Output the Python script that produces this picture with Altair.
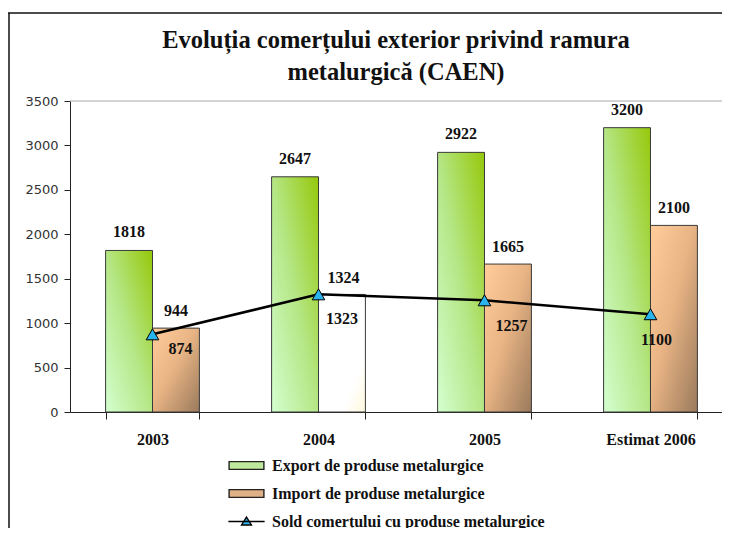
import altair as alt
import pandas as pd

# ---------------- data ----------------
years = ["2003", "2004", "2005", "Estimat 2006"]
export_vals = [1818, 2647, 2922, 3200]
import_vals = [944, 1323, 1665, 2100]
sold_vals = [874, 1324, 1257, 1100]

S_EXP = "Export de produse metalurgice"
S_IMP = "Import de produse metalurgice"
S_SOLD = "Sold comerțului cu produse metalurgice"
series_names = [S_EXP, S_IMP, S_SOLD]

title_lines = ["Evoluția comerțului exterior privind ramura", "metalurgică (CAEN)"]
y_ticks = [0, 500, 1000, 1500, 2000, 2500, 3000, 3500]

bars = pd.DataFrame(
    {"year": years * 2,
     "series": [S_EXP] * 4 + [S_IMP] * 4,
     "value": export_vals + import_vals}
)
sold = pd.DataFrame({"year": years, "series": [S_SOLD] * 4, "value": sold_vals})
legend_df = pd.DataFrame({"series": series_names})
one = pd.DataFrame({"a": [0]})

# ---------------- styling ----------------
SERIF = "Liberation Serif"
green_grad = alt.Gradient(gradient="linear", x1=0, y1=1, x2=1, y2=0,
                          stops=[alt.GradientStop(offset=0, color="#d4ffd0"),
                                 alt.GradientStop(offset=0.5, color="#b5e685"),
                                 alt.GradientStop(offset=1, color="#95c80a")])
tan_grad = alt.Gradient(gradient="linear", x1=0, y1=0, x2=1, y2=1,
                        stops=[alt.GradientStop(offset=0, color="#ffcc9a"),
                               alt.GradientStop(offset=0.45, color="#eab585"),
                               alt.GradientStop(offset=1, color="#9a7a5c")])
white_grad = alt.Gradient(gradient="linear", x1=0, y1=0, x2=1, y2=1,
                          stops=[alt.GradientStop(offset=0, color="#ffffff"),
                                 alt.GradientStop(offset=0.75, color="#ffffff"),
                                 alt.GradientStop(offset=1, color="#fff8dc")])

x_scale = alt.Scale(domain=years, range=[0, 663], paddingInner=0.435, paddingOuter=0.2145)
y_scale = alt.Scale(domain=[0, 3500], nice=False)
x_axis = alt.Axis(title=None, labelFont=SERIF, labelFontWeight="bold", labelFontSize=16,
                  labelColor="#111", labelAngle=0, labelPadding=12, tickBand="extent",
                  domainColor="#222", tickColor="#222", tickSize=7, grid=False)
y_axis = alt.Axis(title=None, values=y_ticks, format="d", labelFont="DejaVu Sans",
                  labelFontSize=13, labelColor="#333", labelPadding=6, domainColor="#222",
                  tickColor="#222", tickSize=6, grid=False)

X = alt.X("year:N", sort=years, scale=x_scale, axis=x_axis)
Y = alt.Y("value:Q", scale=y_scale, axis=y_axis)
XO = alt.XOffset("series:N", scale=alt.Scale(domain=[S_EXP, S_IMP], paddingInner=0, paddingOuter=0))

base = alt.Chart(bars)

top_rule = alt.Chart(one).mark_rule(color="#a8a8a8", strokeWidth=1).encode(y=alt.datum(3500))

exp_bars = base.transform_filter(alt.datum.series == S_EXP).mark_bar(
    fill=green_grad, stroke="#3a3a3a", strokeWidth=1).encode(x=X, xOffset=XO, y=Y)
imp_bars = base.transform_filter(
    (alt.datum.series == S_IMP) & (alt.datum.year != "2004")).mark_bar(
    fill=tan_grad, stroke="#3a3a3a", strokeWidth=1).encode(x=X, xOffset=XO, y=Y)
imp_bar_2004 = base.transform_filter(
    (alt.datum.series == S_IMP) & (alt.datum.year == "2004")).mark_bar(
    fill=white_grad, stroke="#3a3a3a", strokeWidth=1).encode(x=X, xOffset=XO, y=Y)

sold_line = alt.Chart(sold).mark_line(color="black", strokeWidth=2.5).encode(x=X, y=Y)
sold_pts = alt.Chart(sold).mark_point(shape="triangle-up", filled=True, fill="#2ab4ee",
                                      stroke="black", strokeWidth=1, size=160,
                                      opacity=1).encode(x=X, y=Y)

lbl_style = dict(font=SERIF, fontWeight="bold", fontSize=16, color="#111", baseline="middle")
exp_labels = base.transform_filter(alt.datum.series == S_EXP).mark_text(
    dy=-18, **lbl_style).encode(x=X, xOffset=XO, y=Y, text="value:Q")
imp_labels = base.transform_filter(
    (alt.datum.series == S_IMP) & (alt.datum.year != "2004")).mark_text(
    dy=-17, **lbl_style).encode(x=X, xOffset=XO, y=Y, text="value:Q")
imp_label_2004 = base.transform_filter(
    (alt.datum.series == S_IMP) & (alt.datum.year == "2004")).mark_text(
    dy=25, **lbl_style).encode(x=X, xOffset=XO, y=Y, text="value:Q")

sold_label_offsets = {"2003": (28, 15), "2004": (25, -16), "2005": (27, 26), "Estimat 2006": (6, 26)}
sold_labels = [
    alt.Chart(sold).transform_filter(alt.datum.year == yr).mark_text(
        dx=dx, dy=dy, **lbl_style).encode(x=X, y=Y, text="value:Q")
    for yr, (dx, dy) in sold_label_offsets.items()
]

rect_path = "M-1.2,-0.27H1.2V0.27H-1.2Z"
line_tri_path = "M-1.25,0H1.25M0,-0.3L0.34,0.24L-0.34,0.24Z"
legend_props = dict(orient="none", legendX=161, legendY=349, title=None,
                    symbolSize=841, symbolStrokeColor="black", symbolStrokeWidth=1.4,
                    symbolOpacity=1, labelFont=SERIF, labelFontWeight="bold",
                    labelFontSize=16, labelColor="#111", labelOffset=10, rowPadding=4,
                    padding=0, labelLimit=400)
legend_layer = alt.Chart(legend_df).mark_point(filled=True, opacity=0).encode(
    fill=alt.Fill("series:N", title=None,
                  scale=alt.Scale(domain=series_names, range=["#bfe99c", "#e0b086", "#2ab4ee"]),
                  legend=alt.Legend(**legend_props)),
    stroke=alt.Stroke("series:N", title=None,
                      scale=alt.Scale(domain=series_names, range=["#222222", "#222222", "#000000"]),
                      legend=alt.Legend(**legend_props)),
    shape=alt.Shape("series:N", title=None,
                    scale=alt.Scale(domain=series_names,
                                    range=[rect_path, rect_path, line_tri_path]),
                    legend=alt.Legend(**legend_props)),
)

# outer chart-area frame: thin filled strips for the left and top edges
frame_top = alt.Chart(one).mark_rect(fill="#111", strokeWidth=0).encode(
    x=alt.value(-62), x2=alt.value(652), y=alt.value(-88.75), y2=alt.value(-87.25))
frame_left = alt.Chart(one).mark_rect(fill="#111", strokeWidth=0).encode(
    x=alt.value(-61.75), x2=alt.value(-60.25), y=alt.value(-88), y2=alt.value(427))

chart = alt.layer(
    top_rule, exp_bars, imp_bars, imp_bar_2004, sold_line, sold_pts,
    exp_labels, imp_labels, imp_label_2004, *sold_labels, legend_layer,
    frame_top, frame_left,
).properties(
    width=652, height=311,
    title=alt.TitleParams(text=title_lines, font=SERIF, fontWeight="bold", fontSize=24.5,
                          lineHeight=32, color="#111", anchor="middle", offset=0, dy=73),
    autosize=alt.AutoSizeParams(type="none"),
    padding={"left": 62, "top": 93, "right": 0, "bottom": 116},
).configure_view(strokeWidth=0)

chart.save("out.html", embed_options={"renderer": "svg", "actions": False})
